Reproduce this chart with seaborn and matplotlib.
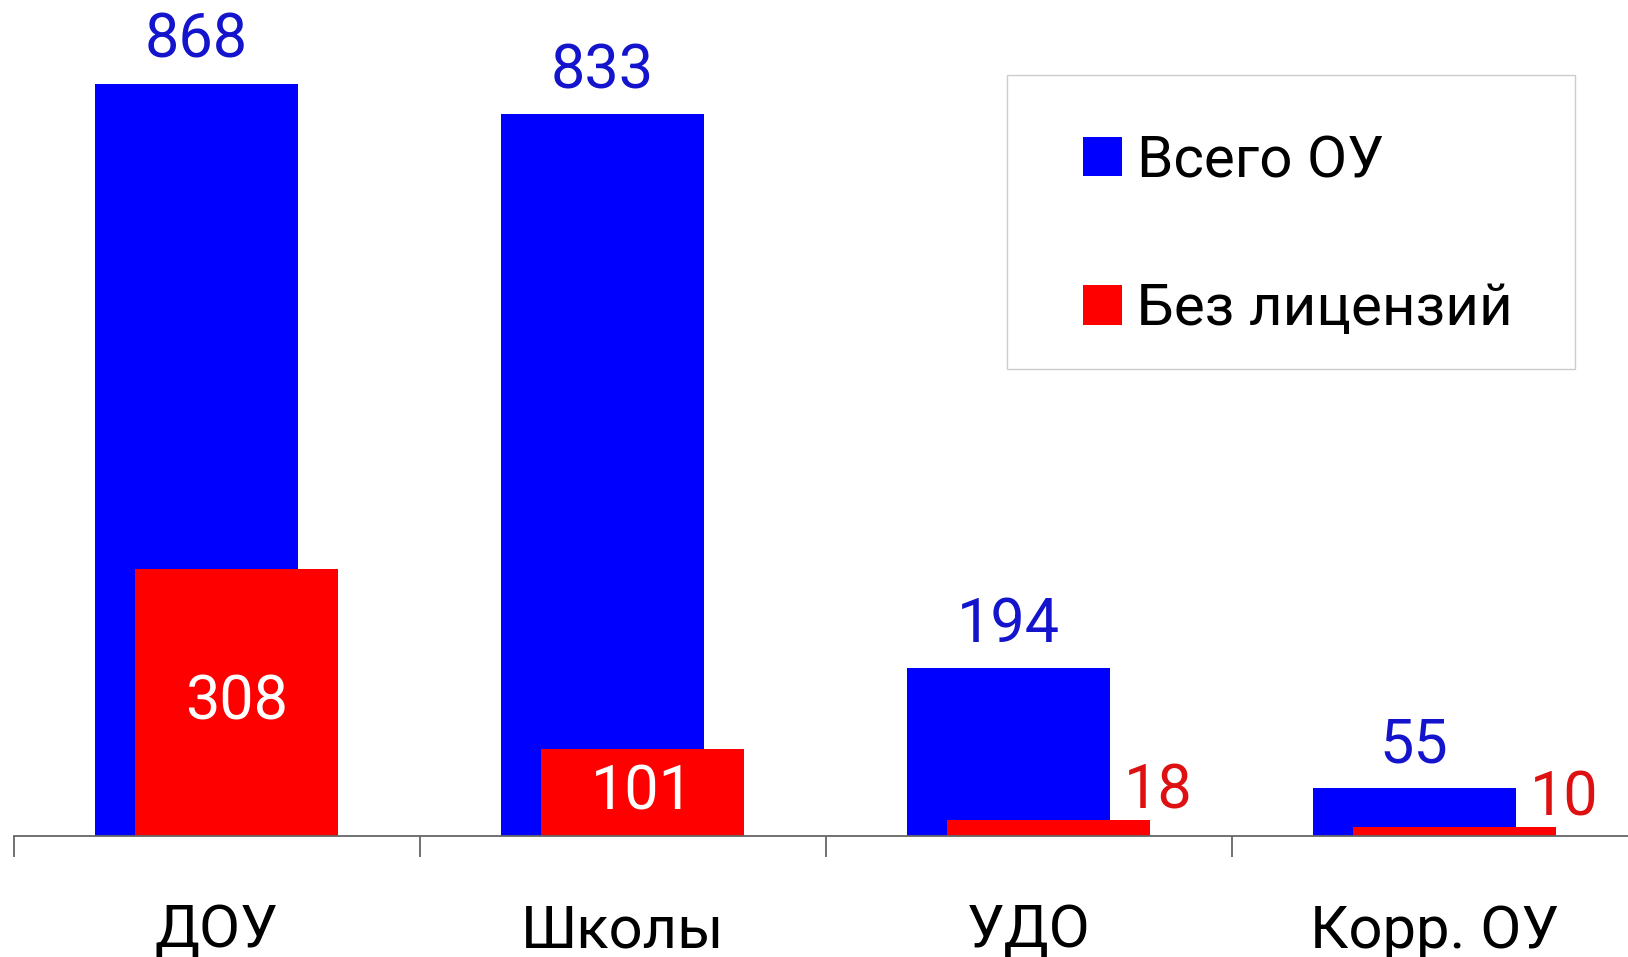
import numpy as np
import matplotlib
matplotlib.use("Agg")
import matplotlib.pyplot as plt
from matplotlib.patches import Rectangle
import seaborn as sns

# Chart data
categories = ["ДОУ", "Школы", "УДО", "Корр. ОУ"]
total_ou = [868, 833, 194, 55]
no_license = [308, 101, 18, 10]
series_names = ["Всего ОУ", "Без лицензий"]

sns.set_theme(style="white")
plt.rcParams['font.family'] = ['Roboto', 'DejaVu Sans']
plt.rcParams['text.color'] = 'black'
plt.rcParams['xtick.color'] = '#666666'
plt.rcParams['xtick.labelcolor'] = 'black'

BLUE = "#0000FF"
RED = "#FF0000"
BLUE_TXT = "#1414CC"
RED_TXT = "#DD1111"

W, H, DPI = 1628, 957, 100
fig = plt.figure(figsize=(W / DPI, H / DPI), dpi=DPI)
ax = fig.add_axes([13.5 / W, 121 / H, 1624 / W, 836 / H])

pos = np.arange(len(categories))
shift = 0.05

sns.barplot(x=pos - shift, y=total_ou, native_scale=True, width=0.5,
            color=BLUE, saturation=1, linewidth=0, errorbar=None,
            label=series_names[0], ax=ax)
sns.barplot(x=pos + shift, y=no_license, native_scale=True, width=0.5,
            color=RED, saturation=1, linewidth=0, errorbar=None,
            label=series_names[1], ax=ax)

ax.set_xlim(-0.5, len(categories) - 0.5)
ax.set_ylim(0, 965)

# value labels
for x, v in zip(pos - shift, total_ou):
    ax.annotate(str(v), (x, v), xytext=(0, 31), textcoords="offset points",
                ha="center", va="center", fontsize=44, color=BLUE_TXT)
for x, v in zip(pos + shift, no_license):
    if v > 50:
        ax.text(x, v / 2, str(v), ha="center", va="center",
                fontsize=44, color="white")
    else:
        ax.annotate(str(v), (x + 0.25, v), xytext=(6, 21), textcoords="offset points",
                    ha="center", va="center", fontsize=44, color=RED_TXT)

# axes styling
for side in ["left", "right", "top"]:
    ax.spines[side].set_visible(False)
ax.spines["bottom"].set_color("#666666")
ax.spines["bottom"].set_linewidth(1.3)
ax.set_yticks([])
ax.set_xticks(np.arange(-0.5, len(categories)), labels=[""] * (len(categories) + 1))
ax.set_xticks(pos, labels=categories, minor=True)
ax.tick_params(axis="x", which="major", bottom=True, length=15, width=1.3,
               color="#666666", direction="out")
ax.tick_params(axis="x", which="minor", bottom=True, length=0, pad=48,
               labelsize=43, labelcolor="black")
ax.set_xlabel("")
ax.set_ylabel("")

handles, labels = ax.get_legend_handles_labels()
if ax.get_legend() is not None:
    ax.get_legend().remove()
leg = fig.legend(handles, labels, loc="upper left",
                 bbox_to_anchor=(1083 / W, 1 - 134 / H), bbox_transform=fig.transFigure,
                 fontsize=42, frameon=False, borderpad=0,
                 handlelength=0.67, handleheight=0.67, handletextpad=0.25,
                 labelspacing=1.6, borderaxespad=0)
for t in leg.get_texts():
    t.set_color("black")

# legend frame
fig.patches.append(Rectangle((1007 / W, 1 - 369 / H), 568 / W, 294 / H,
                             transform=fig.transFigure, fill=False,
                             edgecolor="#CCCCCC", linewidth=1.0, zorder=0))

fig.savefig("out.png", dpi=DPI)
